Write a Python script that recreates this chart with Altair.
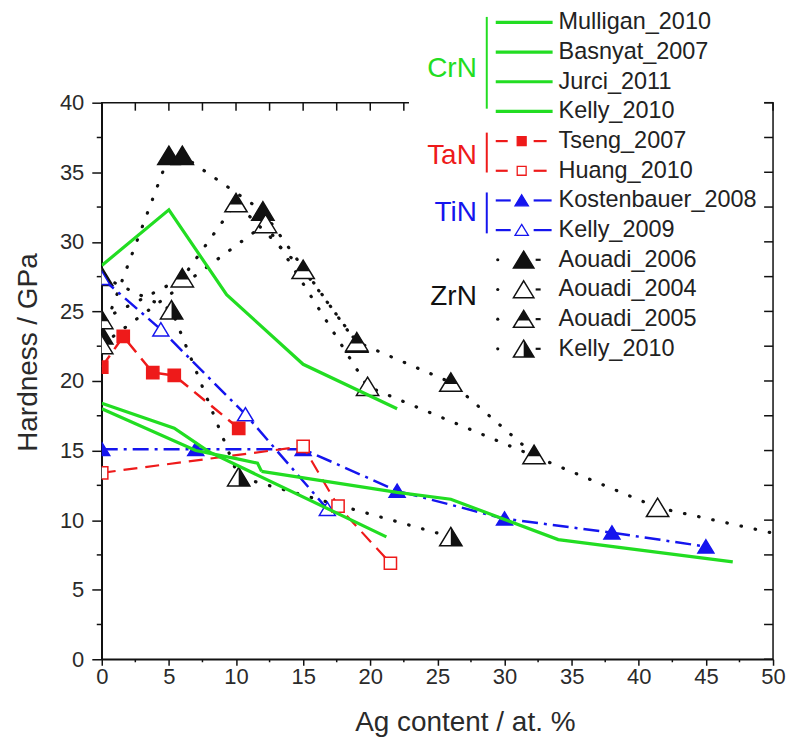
import altair as alt
import pandas as pd

# ---------------- data ----------------
# CrN (green, solid)
mulligan_x = [0, 5, 9.3, 15, 22]
mulligan_y = [28.3, 32.3, 26.2, 21.2, 18.0]
basnyat_x = [0, 5.4, 8, 21.2]
basnyat_y = [18.4, 16.6, 14.9, 8.8]
jurci_x = [0, 7, 10.1, 11.6, 11.9]
jurci_y = [18.0, 15.0, 14.4, 14.1, 13.5]
kelly10c_x = [11.9, 22, 26, 34, 47]
kelly10c_y = [13.5, 12.0, 11.5, 8.6, 7.0]

# TaN (red, dashed)
tseng_x = [0, 1.6, 3.8, 5.4, 10.2]
tseng_y = [21.0, 23.2, 20.6, 20.4, 16.6]
huang_x = [0, 15, 17.6, 21.5]
huang_y = [13.4, 15.3, 11.0, 6.9]

# TiN (blue, dash-dot)
kost_x = [0, 7, 15, 22, 30, 38, 45]
kost_y = [15.1, 15.1, 15.1, 12.1, 10.1, 9.1, 8.1]
kelly09_x = [0, 4.4, 10.7, 16.8]
kelly09_y = [27.4, 23.7, 17.6, 10.8]

# ZrN (black, dotted)
a2006_x = [0, 5, 6, 12, 19]
a2006_y = [23.3, 36.2, 36.2, 32.2, 22.7]
a2004_x = [0, 12.2, 19.8, 41.4, 55]
a2004_y = [22.6, 31.3, 19.6, 10.9, 8.0]
a2005_x = [0, 6, 10, 15, 19, 26, 32.2]
a2005_y = [24.4, 27.4, 32.8, 28.0, 22.8, 19.9, 14.7]
kelly10z_x = [0, 5.2, 10.2, 26]
kelly10z_y = [27.5, 25.1, 13.1, 8.8]

crn_labels = ["Mulligan_2010", "Basnyat_2007", "Jurci_2011", "Kelly_2010"]
tan_labels = ["Tseng_2007", "Huang_2010"]
tin_labels = ["Kostenbauer_2008", "Kelly_2009"]
zrn_labels = ["Aouadi_2006", "Aouadi_2004", "Aouadi_2005", "Kelly_2010"]
group_labels = ["CrN", "TaN", "TiN", "ZrN"]

x_ticks = [0, 5, 10, 15, 20, 25, 30, 35, 40, 45, 50]
y_ticks = [0, 5, 10, 15, 20, 25, 30, 35, 40]
x_minor = [2.5, 7.5, 12.5, 17.5, 22.5, 27.5, 32.5, 37.5, 42.5, 47.5]
y_minor = [2.5, 7.5, 12.5, 17.5, 22.5, 27.5, 32.5, 37.5]

# ---------------- styling ----------------
GREEN = "#22dd22"
RED = "#ee1a1a"
BLUE = "#1515ee"
BLACK = "#111111"
FONT = "Liberation Sans"
W, H = 673, 558
PX_X = W / 50.0
PX_Y = H / 40.0

TRI = "M0,-0.85L1,0.8L-1,0.8Z"
TRI_TOP = "M0,-0.85L0.6,0.14L-0.6,0.14Z"
TRI_RIGHT = "M0,-0.85L1,0.8L0,0.8Z"

xs = alt.Scale(domain=[0, 50], nice=False, zero=False)
ys = alt.Scale(domain=[0, 40], nice=False, zero=False)

xaxis = alt.Axis(values=x_ticks, title="Ag content / at. %", grid=False,
                 labelFont=FONT, titleFont=FONT, labelFontSize=22, titleFontSize=28,
                 titleFontWeight="normal", labelColor="#2a2a2a", titleColor="#2a2a2a",
                 domainColor=BLACK, tickColor=BLACK, domainWidth=1.5, tickWidth=1.5,
                 tickSize=6, labelPadding=1, labelFlush=False,
                 titleX=364, titleY=63, titleBaseline="middle", titleAlign="center")
yaxis = alt.Axis(values=y_ticks, title="Hardness / GPa", grid=False,
                 labelFont=FONT, titleFont=FONT, labelFontSize=22, titleFontSize=28,
                 titleFontWeight="normal", labelColor="#2a2a2a", titleColor="#2a2a2a",
                 domainColor=BLACK, tickColor=BLACK, domainWidth=1.5, tickWidth=1.5,
                 tickSize=10, labelPadding=8, labelFlush=False,
                 titleAngle=270, titleX=-73, titleY=250, titleBaseline="middle",
                 titleAlign="center")


def enc():
    return dict(x=alt.X("x:Q", scale=xs, axis=xaxis),
                y=alt.Y("y:Q", scale=ys, axis=yaxis))


def series(xv, yv, color, width, dash=None, cap=None, shape=None, size=None,
           fill=None, overlay=None, sw=1.5):
    df = pd.DataFrame({"x": xv, "y": yv})
    kw = dict(color=color, strokeWidth=width, clip=True)
    if dash is not None:
        kw["strokeDash"] = dash
    if cap is not None:
        kw["strokeCap"] = cap
    out = [alt.Chart(df).mark_line(**kw).encode(**enc())]
    if shape is not None:
        out.append(alt.Chart(df).mark_point(shape=shape, size=size, filled=True,
                                            fill=fill, stroke=color, strokeWidth=sw,
                                            opacity=1, clip=True).encode(**enc()))
        if overlay is not None:
            out.append(alt.Chart(df).mark_point(shape=overlay, size=size, filled=True,
                                                fill=color, strokeWidth=0,
                                                opacity=1, clip=True).encode(**enc()))
    return out


layers = []

# frame ticks (inward on top/right, minor outward on left/bottom)
nt = len(x_ticks) + len(x_minor)
top_df = pd.DataFrame({"x": x_ticks + x_minor, "y": [40] * nt,
                       "y2": [40 - 8 / PX_Y] * nt})
layers.append(alt.Chart(top_df).mark_rule(color=BLACK, strokeWidth=1.5, clip=False).encode(
    x=alt.X("x:Q", scale=xs, axis=xaxis), y=alt.Y("y:Q", scale=ys, axis=yaxis), y2="y2:Q"))
nr = len(y_ticks) + len(y_minor)
right_df = pd.DataFrame({"y": y_ticks + y_minor, "x": [50] * nr,
                         "x2": [50 - 9 / PX_X] * nr})
layers.append(alt.Chart(right_df).mark_rule(color=BLACK, strokeWidth=1.5, clip=False).encode(
    x=alt.X("x:Q", scale=xs, axis=xaxis), x2="x2:Q", y=alt.Y("y:Q", scale=ys, axis=yaxis)))
leftm_df = pd.DataFrame({"y": y_minor, "x": [0] * len(y_minor),
                         "x2": [-5 / PX_X] * len(y_minor)})
layers.append(alt.Chart(leftm_df).mark_rule(color=BLACK, strokeWidth=1.5, clip=False).encode(
    x=alt.X("x:Q", scale=xs, axis=xaxis), x2="x2:Q", y=alt.Y("y:Q", scale=ys, axis=yaxis)))
botm_df = pd.DataFrame({"x": x_minor, "y": [0] * len(x_minor),
                        "y2": [-3 / PX_Y] * len(x_minor)})
layers.append(alt.Chart(botm_df).mark_rule(color=BLACK, strokeWidth=1.5, clip=False).encode(
    x=alt.X("x:Q", scale=xs, axis=xaxis), y=alt.Y("y:Q", scale=ys, axis=yaxis), y2="y2:Q"))

DOT = [0.5, 14]
layers += series(a2006_x, a2006_y, BLACK, 3.2, DOT, "round", TRI, 500, BLACK)
layers += series(a2004_x, a2004_y, BLACK, 3.2, DOT, "round", TRI, 500, "white")
layers += series(a2005_x, a2005_y, BLACK, 3.2, DOT, "round", TRI, 500, "white", TRI_TOP)
layers += series(kelly10z_x, kelly10z_y, BLACK, 3.2, DOT, "round", TRI, 500, "white", TRI_RIGHT)

DASHDOT = [16, 6, 3, 6]
layers += series(kost_x, kost_y, BLUE, 2.5, DASHDOT, None, TRI, 256, BLUE)
layers += series(kelly09_x, kelly09_y, BLUE, 2.5, DASHDOT, None, TRI, 256, "white")

DASH = [14, 8]
layers += series(tseng_x, tseng_y, RED, 2.5, DASH, None, "square", 150, RED)
layers += series(huang_x, huang_y, RED, 2.2, DASH, None, "square", 150, "white")

for gx, gy in [(mulligan_x, mulligan_y), (basnyat_x, basnyat_y),
               (jurci_x, jurci_y), (kelly10c_x, kelly10c_y)]:
    layers += series(gx, gy, GREEN, 3.2)

# ---------------- custom legend (pixel layout) ----------------
one = pd.DataFrame({"a": [0]})
all_labels = crn_labels + tan_labels + tin_labels + zrn_labels
row_y = [-80.5 + 29.75 * i for i in range(len(all_labels))]

# white legend box hiding the frame behind it
layers.append(alt.Chart(one).mark_rect(fill="white", strokeWidth=0).encode(
    x=alt.value(308), x2=alt.value(664), y=alt.value(-100), y2=alt.value(258)))

TX = 458
for lab, yy in zip(all_labels, row_y):
    layers.append(alt.Chart(one).mark_text(align="left", baseline="middle", font=FONT,
                                           fontSize=23.5, color="#222222").encode(
        x=alt.value(TX), y=alt.value(yy), text=alt.value(lab)))

# CrN samples
for yy in row_y[0:4]:
    layers.append(alt.Chart(one).mark_rule(color=GREEN, strokeWidth=3.2).encode(
        x=alt.value(395), x2=alt.value(452), y=alt.value(yy)))
# TaN samples
for yy, f in zip(row_y[4:6], [RED, "white"]):
    for a, b in [(395, 407), (433, 446)]:
        layers.append(alt.Chart(one).mark_rule(color=RED, strokeWidth=2.2).encode(
            x=alt.value(a), x2=alt.value(b), y=alt.value(yy)))
    layers.append(alt.Chart(one).mark_point(shape="square", size=80, filled=True, fill=f,
                                            stroke=RED, strokeWidth=1.3, opacity=1).encode(
        x=alt.value(421), y=alt.value(yy)))
# TiN samples
for yy, f in zip(row_y[6:8], [BLUE, "white"]):
    for a, b in [(395, 410), (433, 451)]:
        layers.append(alt.Chart(one).mark_rule(color=BLUE, strokeWidth=2.2).encode(
            x=alt.value(a), x2=alt.value(b), y=alt.value(yy)))
    layers.append(alt.Chart(one).mark_point(shape=TRI, size=180, filled=True, fill=f,
                                            stroke=BLUE, strokeWidth=1.3, opacity=1).encode(
        x=alt.value(421), y=alt.value(yy)))
# ZrN samples
for yy, f, ov in zip(row_y[8:12], [BLACK, "white", "white", "white"],
                     [None, None, TRI_TOP, TRI_RIGHT]):
    layers.append(alt.Chart(one).mark_point(shape="circle", size=10, filled=True,
                                            color=BLACK, opacity=1).encode(
        x=alt.value(397), y=alt.value(yy)))
    layers.append(alt.Chart(one).mark_rule(color=BLACK, strokeWidth=2.2).encode(
        x=alt.value(435), x2=alt.value(440), y=alt.value(yy)))
    layers.append(alt.Chart(one).mark_point(shape=TRI, size=420, filled=True, fill=f,
                                            stroke=BLACK, strokeWidth=1.5, opacity=1).encode(
        x=alt.value(423), y=alt.value(yy)))
    if ov is not None:
        layers.append(alt.Chart(one).mark_point(shape=ov, size=420, filled=True, fill=BLACK,
                                                strokeWidth=0, opacity=1).encode(
            x=alt.value(423), y=alt.value(yy)))

# group labels and brackets
for lab, yy, col in zip(group_labels, [-34, 53, 111, 195], [GREEN, RED, BLUE, BLACK]):
    layers.append(alt.Chart(one).mark_text(align="right", baseline="middle", font=FONT,
                                           fontSize=28, color=col).encode(
        x=alt.value(376), y=alt.value(yy), text=alt.value(lab)))
for (y1, y2), col in zip([(-86, 6), (30, 70), (90, 131)], [GREEN, RED, BLUE]):
    layers.append(alt.Chart(one).mark_rule(color=col, strokeWidth=2).encode(
        x=alt.value(386), y=alt.value(y1), y2=alt.value(y2)))

chart = alt.layer(*layers).properties(
    width=W, height=H,
    autosize=alt.AutoSizeParams(type="none"),
    padding={"left": 94, "top": 94, "right": 14, "bottom": 80},
    background="white",
).configure_view(stroke=BLACK, strokeWidth=1.5)

chart.save("out.html", embed_options={"renderer": "svg", "actions": False})
